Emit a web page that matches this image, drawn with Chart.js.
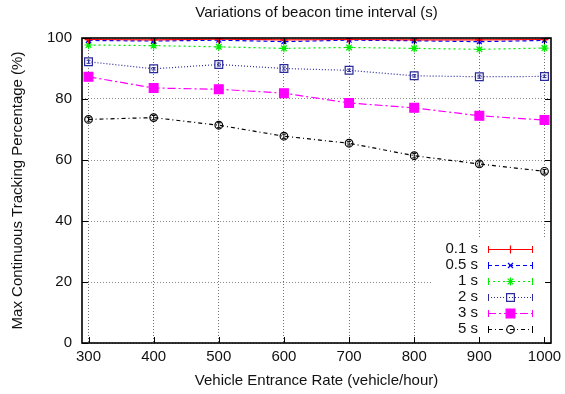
<!DOCTYPE html>
<html><head><meta charset="utf-8">
<script src="https://cdn.jsdelivr.net/npm/chart.js@4/dist/chart.umd.min.js"></script>
<style>html,body{margin:0;padding:0;background:#fff}#wrap{width:565px;height:394px}</style>
</head><body><div id="wrap"><canvas id="c" width="565" height="394"></canvas></div>
<script>
// ---- data ----
const rates = [300, 400, 500, 600, 700, 800, 900, 1000];
const xTicks = [300, 400, 500, 600, 700, 800, 900, 1000];
const yTicks = [0, 20, 40, 60, 80, 100];
const seriesLabels = ['0.1 s', '0.5 s', '1 s', '2 s', '3 s', '5 s'];
const s01 = [99.5, 99.4, 99.6, 99.4, 99.5, 99.4, 99.4, 99.5];
const s05 = [99.2, 99.0, 99.3, 98.8, 99.3, 99.1, 98.8, 99.2];
const s1  = [97.7, 97.5, 97.1, 96.6, 96.9, 96.6, 96.3, 96.7];
const s2  = [92.2, 89.9, 91.3, 90.0, 89.4, 87.6, 87.3, 87.4];
const s3  = [87.3, 83.6, 83.2, 81.9, 78.7, 77.1, 74.5, 73.1];
const s5  = [73.3, 73.9, 71.4, 67.8, 65.5, 61.4, 58.7, 56.3];
const e01 = [0.2, 0.2, 0.2, 0.2, 0.2, 0.2, 0.2, 0.2];
const e05 = [0.3, 0.3, 0.3, 0.4, 0.3, 0.3, 0.4, 0.3];
const e1  = [0.4, 0.4, 0.4, 0.4, 0.4, 0.4, 0.4, 0.4];
const e2  = [0.5, 0.4, 0.5, 0.5, 0.4, 0.4, 0.5, 0.4];
const e3  = [0.6, 0.6, 0.7, 0.7, 0.5, 0.6, 0.6, 0.5];
const e5  = [0.6, 0.7, 0.8, 0.7, 0.6, 0.7, 0.7, 0.6];
const titleText = 'Variations of beacon time interval (s)';
const xTitle = 'Vehicle Entrance Rate (vehicle/hour)';
const yTitle = 'Max Continuous Tracking Percentage (%)';

const FONT = '"Liberation Sans", Arial, Helvetica, sans-serif';
const values = [s01, s05, s1, s2, s3, s5];
const errors = [e01, e05, e1, e2, e3, e5];
const styles = [
  {color: '#ff0000', dash: [], pt: 'cross', r: 4, fill: false},
  {color: '#0000ff', dash: [4, 3], pt: 'crossRot', r: 3.5, fill: false},
  {color: '#00ee00', dash: [2, 3], pt: 'star', r: 4, fill: false},
  {color: '#2a2a9a', dash: [1, 2], pt: 'rect', r: 5.5, fill: false},
  {color: '#ff00ff', dash: [8, 3, 2, 3], pt: 'rect', r: 6.2, fill: true},
  {color: '#000000', dash: [4, 3, 1, 3], pt: 'circle', r: 3.8, fill: false}
];

const datasets = values.map((vals, i) => ({
  label: seriesLabels[i],
  data: rates.map((x, j) => ({x: x, y: vals[j]})),
  borderColor: styles[i].color,
  backgroundColor: styles[i].color,
  borderWidth: 1.2,
  borderDash: styles[i].dash,
  pointStyle: styles[i].pt,
  pointRadius: styles[i].r,
  pointBorderWidth: 1.2,
  pointBorderColor: styles[i].color,
  pointBackgroundColor: styles[i].fill ? styles[i].color : 'rgba(0,0,0,0)',
  tension: 0,
  fill: false
}));

function drawMarker(ctx, st, x, y) {
  const r = st.r;
  ctx.save();
  ctx.setLineDash([]);
  ctx.lineWidth = 1.2;
  ctx.strokeStyle = st.color;
  ctx.fillStyle = st.color;
  ctx.beginPath();
  if (st.pt === 'cross') {
    ctx.moveTo(x - r, y); ctx.lineTo(x + r, y); ctx.moveTo(x, y - r); ctx.lineTo(x, y + r); ctx.stroke();
  } else if (st.pt === 'crossRot') {
    const d = r * 0.707;
    ctx.moveTo(x - d, y - d); ctx.lineTo(x + d, y + d); ctx.moveTo(x + d, y - d); ctx.lineTo(x - d, y + d); ctx.stroke();
  } else if (st.pt === 'star') {
    const d = r * 0.707;
    ctx.moveTo(x - r, y); ctx.lineTo(x + r, y); ctx.moveTo(x, y - r); ctx.lineTo(x, y + r);
    ctx.moveTo(x - d, y - d); ctx.lineTo(x + d, y + d); ctx.moveTo(x + d, y - d); ctx.lineTo(x - d, y + d); ctx.stroke();
  } else if (st.pt === 'rect') {
    const s = r * 0.707;
    ctx.rect(x - s, y - s, 2 * s, 2 * s);
    if (st.fill) ctx.fill();
    ctx.stroke();
  } else {
    ctx.arc(x, y, r, 0, Math.PI * 2);
    ctx.stroke();
  }
  ctx.restore();
}

const decor = {
  id: 'decor',
  beforeDatasetsDraw(chart) {
    const {ctx, chartArea: a, scales: {x, y}} = chart;
    ctx.save();
    // opaque key box
    ctx.fillStyle = '#ffffff';
    ctx.fillRect(a.right - 118, a.bottom - 105, 117, 104);
    // error bars
    ctx.lineWidth = 1;
    ctx.setLineDash([]);
    values.forEach((vals, i) => {
      ctx.strokeStyle = styles[i].color;
      vals.forEach((v, j) => {
        const px = x.getPixelForValue(rates[j]);
        const y1 = y.getPixelForValue(Math.min(100, v + errors[i][j]));
        const y2 = y.getPixelForValue(v - errors[i][j]);
        ctx.beginPath();
        ctx.moveTo(px, y1); ctx.lineTo(px, y2);
        ctx.moveTo(px - 2, y1); ctx.lineTo(px + 2, y1);
        ctx.moveTo(px - 2, y2); ctx.lineTo(px + 2, y2);
        ctx.stroke();
      });
    });
    ctx.restore();
  },
  afterDraw(chart) {
    const {ctx, chartArea: a, scales: {x, y}} = chart;
    ctx.save();
    ctx.setLineDash([]);
    // inward tick marks
    ctx.strokeStyle = '#000';
    ctx.lineWidth = 1;
    ctx.beginPath();
    xTicks.forEach(v => {
      const px = Math.round(x.getPixelForValue(v)) + 0.5;
      ctx.moveTo(px, a.bottom); ctx.lineTo(px, a.bottom - 6);
      ctx.moveTo(px, a.top); ctx.lineTo(px, a.top + 6);
    });
    yTicks.forEach(v => {
      const py = Math.round(y.getPixelForValue(v)) + 0.5;
      ctx.moveTo(a.left, py); ctx.lineTo(a.left + 6, py);
      ctx.moveTo(a.right, py); ctx.lineTo(a.right - 6, py);
    });
    ctx.stroke();
    // frame
    ctx.lineWidth = 1.6;
    ctx.strokeRect(a.left, a.top, a.right - a.left, a.bottom - a.top);
    // title
    ctx.fillStyle = '#111';
    ctx.font = '15px ' + FONT;
    ctx.textAlign = 'center';
    ctx.textBaseline = 'middle';
    ctx.fillText(titleText, (a.left + a.right) / 2, 13);
    // key
    ctx.textAlign = 'right';
    styles.forEach((st, i) => {
      const ry = a.bottom - 94 + 16 * i;
      ctx.fillStyle = '#111';
      ctx.fillText(seriesLabels[i], a.right - 73, ry);
      const x1 = a.right - 63, x2 = a.right - 18;
      ctx.save();
      ctx.strokeStyle = st.color;
      ctx.lineWidth = 1.2;
      ctx.setLineDash(st.dash);
      ctx.beginPath(); ctx.moveTo(x1, ry + 0.5); ctx.lineTo(x2, ry + 0.5); ctx.stroke();
      ctx.setLineDash([]);
      ctx.lineWidth = 1;
      ctx.beginPath();
      ctx.moveTo(x1 + 0.5, ry - 3); ctx.lineTo(x1 + 0.5, ry + 4);
      ctx.moveTo(x2 - 0.5, ry - 3); ctx.lineTo(x2 - 0.5, ry + 4);
      ctx.stroke();
      ctx.restore();
      drawMarker(ctx, st, (x1 + x2) / 2, ry + 0.5);
    });
    ctx.restore();
  }
};

new Chart(document.getElementById('c'), {
  type: 'line',
  data: {datasets: datasets},
  options: {
    responsive: false,
    animation: false,
    devicePixelRatio: 1,
    layout: {padding: {top: 38, right: 14, left: 0, bottom: 0}},
    plugins: {legend: {display: false}, title: {display: false}, tooltip: {enabled: false}},
    scales: {
      x: {
        type: 'linear',
        min: 290, max: 1010,
        afterBuildTicks: s => { s.ticks = xTicks.map(v => ({value: v})); },
        afterFit: s => { s.height = 51; s.paddingLeft = 0; s.paddingRight = 0; },
        ticks: {font: {family: FONT, size: 15}, color: '#111', padding: 5, maxRotation: 0, autoSkip: false,
                callback: v => String(v)},
        grid: {color: 'rgba(0,0,0,0.55)', drawTicks: false, lineWidth: 1},
        border: {display: false, dash: [1, 2]},
        title: {display: true, text: xTitle, font: {family: FONT, size: 15}, color: '#111', padding: {top: 0, bottom: 4}}
      },
      y: {
        min: 0, max: 100,
        afterBuildTicks: s => { s.ticks = yTicks.map(v => ({value: v})); },
        afterFit: s => { s.width = 82; },
        ticks: {font: {family: FONT, size: 15}, color: '#111', padding: 10, callback: v => String(v)},
        grid: {color: 'rgba(0,0,0,0.45)', drawTicks: false, lineWidth: 1},
        border: {display: false, dash: [1, 2]},
        title: {display: true, text: yTitle, font: {family: FONT, size: 15}, color: '#111', padding: {top: 9, bottom: 0}}
      }
    }
  },
  plugins: [decor]
});
</script></body></html>
